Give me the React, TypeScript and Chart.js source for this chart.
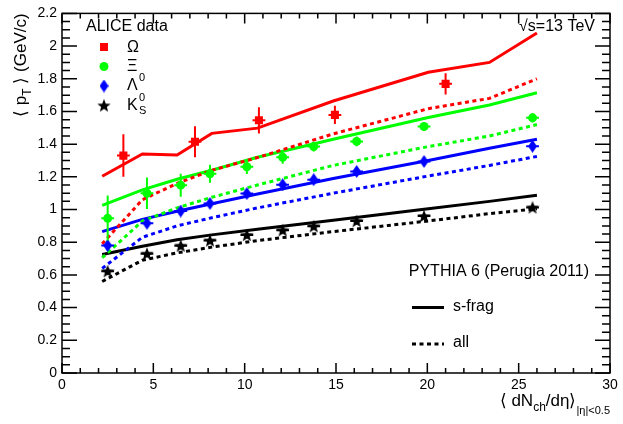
import { useEffect, useRef } from 'react'
import { Chart, registerables, type Plugin } from 'chart.js'

Chart.register(...registerables)

const FONT = "'Liberation Sans', Arial, Helvetica, sans-serif"
const RED = '#ff0000'
const GREEN = '#00ff00'
const BLUE = '#0000ff'
const BLACK = '#000000'

// ALICE data (pp, 13 TeV)
const OMEGA_X   = [3.36, 7.28, 10.78, 14.94, 21.0]
const OMEGA_Y   = [1.33, 1.415, 1.546, 1.579, 1.769]
const OMEGA_ERR = [0.13, 0.095, 0.08, 0.056, 0.065]

const MULT_X     = [2.5, 4.65, 6.5, 8.1, 10.12, 12.08, 13.78, 16.13, 19.82, 25.76]
const XI_Y       = [0.946, 1.10, 1.149, 1.219, 1.262, 1.32, 1.385, 1.417, 1.508, 1.561]
const XI_ERR     = [0.14, 0.096, 0.07, 0.055, 0.045, 0.04, 0.03, 0.03, 0.028, 0.028]
const LAMBDA_Y   = [0.78, 0.916, 0.991, 1.037, 1.098, 1.152, 1.183, 1.233, 1.294, 1.387]
const LAMBDA_ERR = [0.03, 0.025, 0.02, 0.02, 0.02, 0.02, 0.02, 0.02, 0.02, 0.02]
const K0S_Y      = [0.623, 0.73, 0.779, 0.811, 0.845, 0.874, 0.898, 0.93, 0.96, 1.013]
const K0S_ERR    = [0.02, 0.02, 0.02, 0.02, 0.02, 0.02, 0.02, 0.02, 0.02, 0.02]
const X_ERR = 0.35

// PYTHIA 6 (Perugia 2011)
const PYTHIA_X     = [2.2, 4.4, 6.3, 8.2, 10.7, 14.85, 20.05, 23.4, 26.0]
const OMEGA_SFRAG  = [1.204, 1.34, 1.334, 1.466, 1.498, 1.664, 1.84, 1.90, 2.08]
const OMEGA_ALL    = [0.79, 1.06, 1.16, 1.24, 1.318, 1.463, 1.617, 1.68, 1.80]
const XI_SFRAG     = [1.025, 1.12, 1.185, 1.24, 1.32, 1.43, 1.563, 1.64, 1.715]
const XI_ALL       = [0.705, 0.93, 1.01, 1.075, 1.15, 1.27, 1.385, 1.45, 1.52]
const LAMBDA_SFRAG = [0.865, 0.94, 0.99, 1.035, 1.095, 1.19, 1.30, 1.375, 1.43]
const LAMBDA_ALL   = [0.64, 0.83, 0.90, 0.95, 1.01, 1.10, 1.205, 1.27, 1.325]
const K0S_SFRAG    = [0.725, 0.775, 0.815, 0.845, 0.88, 0.935, 1.005, 1.05, 1.088]
const K0S_ALL      = [0.56, 0.69, 0.735, 0.77, 0.81, 0.865, 0.93, 0.975, 1.005]

// axis ranges / ticks
const X_MIN = 0, X_MAX = 30, X_MAJOR = 5, X_MINOR = 1
const Y_MIN = 0, Y_MAX = 2.2, Y_MAJOR = 0.2, Y_MINOR = 0.05

const DATA_SERIES = [
  { x: OMEGA_X, y: OMEGA_Y, err: OMEGA_ERR, color: RED },
  { x: MULT_X, y: XI_Y, err: XI_ERR, color: GREEN },
  { x: MULT_X, y: LAMBDA_Y, err: LAMBDA_ERR, color: BLUE },
  { x: MULT_X, y: K0S_Y, err: K0S_ERR, color: BLACK },
]

const MODEL_SERIES = [
  { y: OMEGA_SFRAG, color: RED, dashed: false },
  { y: OMEGA_ALL, color: RED, dashed: true },
  { y: XI_SFRAG, color: GREEN, dashed: false },
  { y: XI_ALL, color: GREEN, dashed: true },
  { y: LAMBDA_SFRAG, color: BLUE, dashed: false },
  { y: LAMBDA_ALL, color: BLUE, dashed: true },
  { y: K0S_SFRAG, color: BLACK, dashed: false },
  { y: K0S_ALL, color: BLACK, dashed: true },
]

function makeMarker(w: number, h: number, draw: (c: CanvasRenderingContext2D) => void) {
  const cv = document.createElement('canvas')
  cv.width = w
  cv.height = h
  const c = cv.getContext('2d')!
  draw(c)
  return cv
}

function diamond(color: string) {
  return makeMarker(9, 13, (c) => {
    c.fillStyle = color
    c.beginPath()
    c.moveTo(4.5, 0); c.lineTo(9, 6.5); c.lineTo(4.5, 13); c.lineTo(0, 6.5)
    c.closePath(); c.fill()
  })
}

function star(color: string) {
  return makeMarker(14, 14, (c) => {
    c.fillStyle = color
    c.beginPath()
    for (let i = 0; i < 10; i++) {
      const r = i % 2 === 0 ? 7 : 3
      const a = -Math.PI / 2 + (i * Math.PI) / 5
      const px = 7 + r * Math.cos(a), py = 7.6 + r * Math.sin(a)
      i === 0 ? c.moveTo(px, py) : c.lineTo(px, py)
    }
    c.closePath(); c.fill()
  })
}

let MARKERS: { diamond: HTMLCanvasElement; star: HTMLCanvasElement } | null = null

type Part = { t: string; s: number; dy?: number }

function richWidth(ctx: CanvasRenderingContext2D, parts: Part[]) {
  let w = 0
  for (const p of parts) { ctx.font = `${p.s}px ${FONT}`; w += ctx.measureText(p.t).width }
  return w
}

function drawRich(ctx: CanvasRenderingContext2D, parts: Part[], x: number, y: number) {
  let cx = x
  for (const p of parts) {
    ctx.font = `${p.s}px ${FONT}`
    ctx.fillText(p.t, cx, y + (p.dy ?? 0))
    cx += ctx.measureText(p.t).width
  }
}

// tick positions in data units, with a flag for the long ones
function tickList(min: number, max: number, minor: number, major: number) {
  const out: { v: number; major: boolean }[] = []
  const n = Math.round((max - min) / minor)
  const every = Math.round(major / minor)
  for (let i = 0; i <= n; i++) out.push({ v: min + i * minor, major: i % every === 0 })
  return out
}

const errorBars: Plugin<'scatter'> = {
  id: 'errorBars',
  afterDatasetsDraw(chart) {
    const { ctx } = chart
    const sx = chart.scales.x
    const sy = chart.scales.y
    ctx.save()
    ctx.lineWidth = 2
    DATA_SERIES.forEach((s) => {
      ctx.strokeStyle = s.color
      s.x.forEach((xv, i) => {
        const px = sx.getPixelForValue(xv)
        const py = sy.getPixelForValue(s.y[i])
        ctx.beginPath()
        ctx.moveTo(px, sy.getPixelForValue(s.y[i] - s.err[i]))
        ctx.lineTo(px, sy.getPixelForValue(s.y[i] + s.err[i]))
        ctx.moveTo(sx.getPixelForValue(xv - X_ERR), py)
        ctx.lineTo(sx.getPixelForValue(xv + X_ERR), py)
        ctx.stroke()
      })
    })
    ctx.restore()
  },
}

const rootFrame: Plugin<'scatter'> = {
  id: 'rootFrame',
  afterDraw(chart) {
    const { ctx, chartArea: a } = chart
    const sx = chart.scales.x
    const sy = chart.scales.y
    ctx.save()

    // inward ticks on all four sides, ROOT style
    ctx.strokeStyle = BLACK
    ctx.lineWidth = 1.5
    ctx.beginPath()
    for (const t of tickList(X_MIN, X_MAX, X_MINOR, X_MAJOR)) {
      const px = sx.getPixelForValue(t.v)
      const len = t.major ? 10 : 5
      ctx.moveTo(px, a.bottom); ctx.lineTo(px, a.bottom - len)
      ctx.moveTo(px, a.top); ctx.lineTo(px, a.top + len)
    }
    for (const t of tickList(Y_MIN, Y_MAX, Y_MINOR, Y_MAJOR)) {
      const py = sy.getPixelForValue(t.v)
      const len = t.major ? 15 : 8
      ctx.moveTo(a.left, py); ctx.lineTo(a.left + len, py)
      ctx.moveTo(a.right, py); ctx.lineTo(a.right - len, py)
    }
    ctx.stroke()
    ctx.strokeRect(a.left, a.top, a.right - a.left, a.bottom - a.top)

    // axis titles
    ctx.fillStyle = BLACK
    ctx.textBaseline = 'alphabetic'
    const xt: Part[] = [
      { t: '\u27e8 dN', s: 17 },
      { t: 'ch', s: 12, dy: 5 },
      { t: '/d\u03b7\u27e9', s: 17 },
      { t: '|\u03b7|<0.5', s: 11, dy: 8 },
    ]
    drawRich(ctx, xt, a.right - richWidth(ctx, xt), 406)

    const yt: Part[] = [
      { t: '\u27e8 p', s: 17 },
      { t: 'T', s: 12, dy: 5 },
      { t: ' \u27e9 (GeV/c)', s: 17 },
    ]
    ctx.save()
    ctx.translate(26, a.top)
    ctx.rotate(-Math.PI / 2)
    drawRich(ctx, yt, -richWidth(ctx, yt), 0)
    ctx.restore()

    // ALICE data legend
    ctx.font = `16px ${FONT}`
    ctx.fillText('ALICE data', 86, 31)
    ctx.fillStyle = RED
    ctx.fillRect(100, 43, 8, 8)
    ctx.fillStyle = GREEN
    ctx.beginPath(); ctx.arc(104, 66.5, 4.5, 0, Math.PI * 2); ctx.fill()
    if (MARKERS) {
      ctx.drawImage(MARKERS.diamond, 104 - 4.5, 86 - 6.5)
      ctx.drawImage(MARKERS.star, 104 - 7, 106 - 7.6)
    }
    ctx.fillStyle = BLACK
    ctx.textBaseline = 'middle'
    ctx.fillText('\u03a9', 127, 48)
    ctx.fillText('\u039e', 127, 67)
    ctx.fillText('\u039b', 127, 86)
    ctx.fillText('K', 127, 106)
    ctx.font = `11px ${FONT}`
    ctx.fillText('0', 139, 78)
    ctx.fillText('0', 139, 98)
    ctx.fillText('S', 139, 111)

    // PYTHIA legend
    ctx.font = `16px ${FONT}`
    ctx.textAlign = 'right'
    ctx.fillText('\u221as=13 TeV', 595, 27)
    ctx.fillText('PYTHIA 6 (Perugia 2011)', 589, 272)
    ctx.textAlign = 'left'
    ctx.fillText('s-frag', 453, 307)
    ctx.fillText('all', 453, 343)
    ctx.lineWidth = 3
    ctx.beginPath(); ctx.moveTo(412, 307.5); ctx.lineTo(444, 307.5); ctx.stroke()
    ctx.setLineDash([4, 3.5])
    ctx.beginPath(); ctx.moveTo(412, 344); ctx.lineTo(444, 344); ctx.stroke()
    ctx.setLineDash([])
    ctx.restore()
  },
}

export default function App() {
  const canvasRef = useRef<HTMLCanvasElement>(null)

  useEffect(() => {
    if (!canvasRef.current) return
    MARKERS = { diamond: diamond(BLUE), star: star(BLACK) }
    const pointStyles: any[] = ['rect', 'circle', MARKERS.diamond, MARKERS.star]
    const pointRadius = [5.7, 4.5, 6, 7]

    const pointSets = DATA_SERIES.map((s, k) => ({
      data: s.x.map((xv, i) => ({ x: xv, y: s.y[i] })),
      showLine: false,
      pointStyle: pointStyles[k],
      pointRadius: pointRadius[k],
      pointBackgroundColor: s.color,
      pointBorderColor: s.color,
      pointBorderWidth: 0,
      order: 0,
    }))
    const lineSets = MODEL_SERIES.map((m) => ({
      data: PYTHIA_X.map((xv, i) => ({ x: xv, y: m.y[i] })),
      showLine: true,
      borderColor: m.color,
      borderWidth: 3,
      borderDash: m.dashed ? [4, 3.5] : [],
      pointRadius: 0,
      tension: 0,
      order: 1,
    }))

    const chart = new Chart(canvasRef.current, {
      type: 'scatter',
      data: { datasets: [...pointSets, ...lineSets] as any },
      options: {
        responsive: true,
        maintainAspectRatio: false,
        animation: false,
        layout: { padding: { top: 10, right: 13, left: 0, bottom: 0 } },
        plugins: { legend: { display: false }, tooltip: { enabled: false } },
        scales: {
          x: {
            type: 'linear',
            min: X_MIN,
            max: X_MAX,
            grid: { display: false, drawTicks: false },
            border: { display: false },
            ticks: { stepSize: X_MAJOR, color: BLACK, padding: 4, font: { family: FONT, size: 14 } },
            afterFit: (s: any) => { s.height = 51 },
          },
          y: {
            type: 'linear',
            min: Y_MIN,
            max: Y_MAX,
            grid: { display: false, drawTicks: false },
            border: { display: false },
            ticks: {
              stepSize: Y_MAJOR,
              color: BLACK,
              padding: 5,
              font: { family: FONT, size: 14 },
              callback: (v: any) => String(+Number(v).toFixed(1)),
            },
            afterFit: (s: any) => { s.width = 62 },
          },
        },
      },
      plugins: [errorBars, rootFrame],
    })

    return () => chart.destroy()
  }, [])

  return (
    <div style={{ position: 'absolute', left: 0, top: 0, width: 623, height: 424, background: '#fff' }}>
      <canvas ref={canvasRef} />
    </div>
  )
}
